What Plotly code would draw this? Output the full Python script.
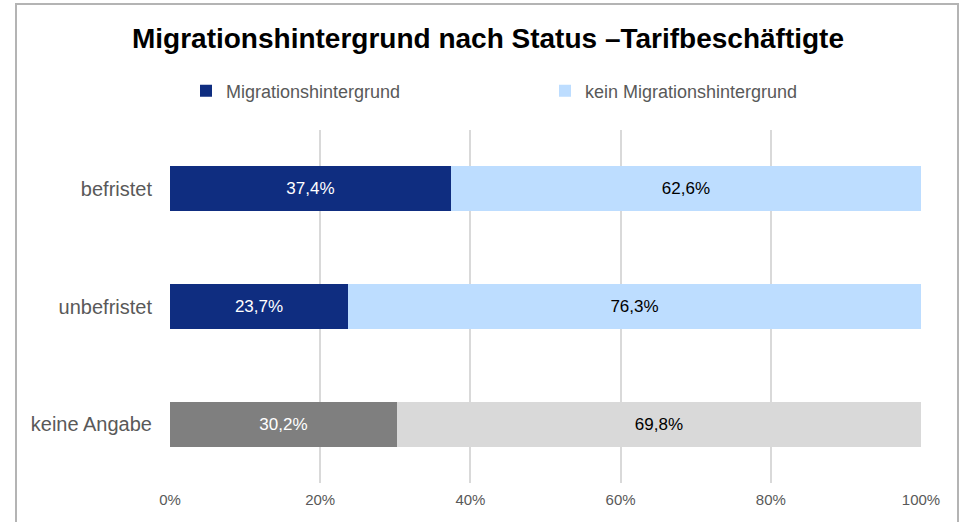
import plotly.graph_objects as go

categories = ["befristet", "unbefristet", "keine Angabe"]
mig_values = [37.4, 23.7, 30.2]
kein_values = [62.6, 76.3, 69.8]
x_ticks = [0, 20, 40, 60, 80, 100]
x_tick_labels = ["0%", "20%", "40%", "60%", "80%", "100%"]

mig_colors = ["#0F2D80", "#0F2D80", "#7F7F7F"]
kein_colors = ["#BDDDFF", "#BDDDFF", "#D9D9D9"]

W, H = 960, 522
L, R, T, B = 170, 39, 130, 39
pw = W - L - R
ph = H - T - B

def px_x(x):
    return (x - L) / pw

def px_y(y):
    return (H - B - y) / ph

fig = go.Figure()
fig.add_trace(go.Bar(
    y=categories, x=mig_values, orientation="h", name="Migrationshintergrund",
    marker=dict(color=mig_colors, line=dict(width=0)),
    texttemplate="%{x:.1f}%", textposition="inside", insidetextanchor="middle",
    textfont=dict(color="white", size=17, family="Liberation Sans, Arial"),
    width=0.385,
))
fig.add_trace(go.Bar(
    y=categories, x=kein_values, orientation="h", name="kein Migrationshintergrund",
    marker=dict(color=kein_colors, line=dict(width=0)),
    texttemplate="%{x:.1f}%", textposition="inside", insidetextanchor="middle",
    textfont=dict(color="black", size=17, family="Liberation Sans, Arial"),
    width=0.385,
))

fig.update_layout(
    width=W, height=H,
    barmode="stack",
    separators=",.",
    paper_bgcolor="white", plot_bgcolor="white",
    margin=dict(l=L, r=R, t=T, b=B),
    font=dict(family="Liberation Sans, Arial", color="#595959"),
    title=dict(
        text="<b>Migrationshintergrund nach Status –Tarifbeschäftigte</b>",
        x=488 / W, xref="container", xanchor="center",
        y=1 - 38 / H, yref="container", yanchor="middle",
        font=dict(size=28, color="black", family="Liberation Sans, Arial"),
    ),
    legend=dict(
        orientation="h",
        x=186 / W, xref="container", xanchor="left",
        y=1 - 91 / H, yref="container", yanchor="middle",
        entrywidth=314,
        font=dict(size=18, color="#595959"),
        traceorder="normal",
    ),
    xaxis=dict(
        range=[0, 100], tickvals=x_ticks, ticktext=x_tick_labels,
        showgrid=True, gridcolor="#D9D9D9", gridwidth=1.5,
        zeroline=False, showline=False,
        tickfont=dict(size=15, color="#595959"),
        ticks="", ticklabelstandoff=6,
    ),
    yaxis=dict(
        autorange="reversed", showgrid=False, zeroline=False, showline=False,
        tickfont=dict(size=20, color="#595959"), ticks="", ticklabelstandoff=17,
    ),
    showlegend=True,
)

fig.add_shape(
    type="rect", xref="paper", yref="paper",
    x0=px_x(16), x1=px_x(958), y0=px_y(540), y1=px_y(4),
    line=dict(color="#B4B4B4", width=2), fillcolor="rgba(0,0,0,0)", layer="below",
)

fig.write_html("out.html", config={"displayModeBar": False})

with open("out.html", "r", encoding="utf-8") as f:
    html = f.read()
html = html.replace("<head>", "<head><style>html,body{margin:0;padding:0;overflow:hidden;}</style>", 1)
with open("out.html", "w", encoding="utf-8") as f:
    f.write(html)
